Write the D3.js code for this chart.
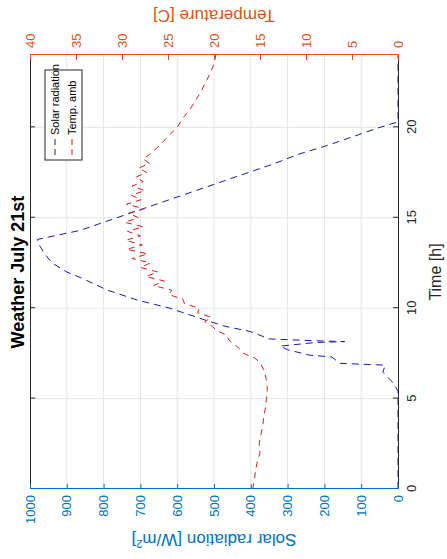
<!DOCTYPE html>
<html>
<head>
<meta charset="utf-8">
<script src="https://cdn.jsdelivr.net/npm/d3@7"></script>
<style>
body { margin: 0; background: #fff; }
svg { display: block; font-family: "Liberation Sans", Arial, sans-serif; }
</style>
</head>
<body>
<svg width="447" height="559"></svg>
<script>
// values
var solarHours = [0, 5.4, 5.7, 6.0, 6.45, 6.85, 6.9, 6.95, 7.3, 7.4, 7.7, 7.9, 8.1, 8.15, 8.2, 8.3, 8.7, 9.0, 9.35, 10, 10.45, 11, 11.7, 12, 12.5, 13, 13.5, 13.8, 14.3, 15, 16, 17, 18, 18.5, 19, 19.5, 20, 20.3, 24];
var solarValues = [0, 0, 8, 19, 41, 35, 100, 158, 180, 240, 300, 320, 225, 145, 230, 350, 400, 470, 525, 620, 709, 790, 864, 900, 940, 960, 975, 980, 864, 764, 621, 478, 335, 272, 192, 120, 49, 0, 0];

var tempHours = [0, 0.5, 1, 1.5, 2, 2.5, 3, 3.5, 4, 4.5, 5, 5.5, 6, 6.5, 7, 7.25, 7.5, 7.75, 8, 8.25, 8.5, 8.75, 9, 9.25, 9.5, 9.75, 10, 10.25, 10.5, 10.75, 11, 11.25, 11.5, 11.75, 12, 12.25, 12.5, 12.75, 13, 13.25, 13.5, 13.75, 14, 14.25, 14.5, 14.75, 15, 15.25, 15.5, 15.75, 16, 16.25, 16.5, 16.75, 17, 17.25, 17.5, 17.75, 18, 18.25, 18.5, 19, 19.5, 20, 20.5, 21, 21.5, 22, 22.5, 23, 23.5, 24];
var tempValues = [15.8, 15.6, 15.5, 15.3, 15.0, 15.1, 14.9, 14.7, 14.6, 14.4, 14.3, 14.2, 14.3, 14.5, 15.0, 15.6, 16.8, 17.2, 17.8, 18.4, 18.6, 19.7, 20.2, 21.0, 20.3, 21.8, 21.6, 23.2, 23.4, 24.9, 24.6, 26.6, 25.4, 27.4, 26.1, 28.0, 26.9, 28.9, 27.2, 29.5, 27.8, 29.6, 28.0, 29.4, 27.7, 29.7, 28.2, 29.3, 27.6, 29.5, 27.9, 29.0, 27.5, 28.9, 27.7, 28.5, 27.3, 28.2, 27.0, 27.7, 27.0, 25.9, 25.0, 24.0, 23.4, 22.6, 22.0, 21.4, 20.9, 20.4, 20.0, 19.8];

var timeTicks = [0, 5, 10, 15, 20];
var solarTicks = [0, 100, 200, 300, 400, 500, 600, 700, 800, 900, 1000];
var tempTicks = [0, 5, 10, 15, 20, 25, 30, 35, 40];

var svg = d3.select('svg');
var svgWidth = +svg.attr('width');
var svgHeight = +svg.attr('height');

// the figure is drawn upright and turned a quarter turn anticlockwise
var figW = svgHeight, figH = svgWidth;
var padding = {t: 30, r: figW - 504, b: figH - 398, l: 70};

var fig = svg.append('g')
    .attr('transform', 'translate(0,' + svgHeight + ') rotate(-90)');

var x = d3.scaleLinear().domain([0, 24]).range([padding.l, figW - padding.r]);
var ySolar = d3.scaleLinear().domain([0, 1000]).range([figH - padding.b, padding.t]);
var yTemp = d3.scaleLinear().domain([0, 40]).range([figH - padding.b, padding.t]);

var blueAxis = '#0072bd', orangeAxis = '#d95319', darkAxis = '#262626';
var gridColor = '#e1e6eb';

// grid
fig.append('g').selectAll('line')
    .data(solarTicks.slice(1, -1))
    .enter().append('line')
    .attr('x1', x(0)).attr('x2', x(24))
    .attr('y1', function(d) { return ySolar(d); })
    .attr('y2', function(d) { return ySolar(d); })
    .attr('stroke', gridColor).attr('stroke-width', 1);
fig.append('g').selectAll('line')
    .data(timeTicks.slice(1))
    .enter().append('line')
    .attr('y1', ySolar(0)).attr('y2', ySolar(1000))
    .attr('x1', function(d) { return x(d); })
    .attr('x2', function(d) { return x(d); })
    .attr('stroke', gridColor).attr('stroke-width', 1);

// lines
var solarLine = d3.line()
    .x(function(d, i) { return x(solarHours[i]); })
    .y(function(d) { return ySolar(d); });
var tempLine = d3.line()
    .x(function(d, i) { return x(tempHours[i]); })
    .y(function(d) { return yTemp(d); });

fig.append('path')
    .attr('d', solarLine(solarValues))
    .attr('fill', 'none')
    .attr('stroke', '#1a1aa6')
    .attr('stroke-width', 1)
    .attr('stroke-dasharray', '7,5');
fig.append('path')
    .attr('d', tempLine(tempValues))
    .attr('fill', 'none')
    .attr('stroke', '#d02020')
    .attr('stroke-width', 1)
    .attr('stroke-dasharray', '6,5');

// axes
function styleAxis(g, color, size) {
    g.selectAll('path.domain').attr('stroke', color);
    g.selectAll('.tick line').attr('stroke', color);
    g.selectAll('.tick text').attr('fill', color).style('font-size', size + 'px').style('font-family', 'inherit');
}

var xAxisG = fig.append('g')
    .attr('transform', 'translate(0,' + ySolar(0) + ')')
    .call(d3.axisBottom(x).tickValues(timeTicks).tickSizeInner(-5).tickSizeOuter(0).tickPadding(9));
styleAxis(xAxisG, darkAxis, 13);

var xTopG = fig.append('g')
    .attr('transform', 'translate(0,' + ySolar(1000) + ')')
    .call(d3.axisTop(x).tickValues(timeTicks).tickSizeInner(-5).tickSizeOuter(0).tickFormat(''));
styleAxis(xTopG, darkAxis, 13);

var yLeftG = fig.append('g')
    .attr('transform', 'translate(' + x(0) + ',0)')
    .call(d3.axisLeft(ySolar).tickValues(solarTicks).tickFormat(d3.format('d'))
        .tickSizeInner(-5).tickSizeOuter(0).tickPadding(6));
styleAxis(yLeftG, blueAxis, 13);

var yRightG = fig.append('g')
    .attr('transform', 'translate(' + x(24) + ',0)')
    .call(d3.axisRight(yTemp).tickValues(tempTicks).tickSizeInner(-5).tickSizeOuter(0).tickPadding(7));
styleAxis(yRightG, orangeAxis, 13);

// labels
var midX = (x(0) + x(24)) / 2, midY = (ySolar(0) + ySolar(1000)) / 2;

fig.append('text')
    .attr('x', midX).attr('y', 24)
    .attr('text-anchor', 'middle')
    .style('font-size', '18px').style('font-weight', 'bold')
    .attr('fill', '#000')
    .text('Weather July 21st');

fig.append('text')
    .attr('x', midX).attr('y', 441)
    .attr('text-anchor', 'middle')
    .style('font-size', '16px')
    .attr('fill', darkAxis)
    .text('Time [h]');

var solarLabel = fig.append('text')
    .attr('transform', 'translate(25,' + midY + ') rotate(-90)')
    .attr('text-anchor', 'middle')
    .style('font-size', '17px')
    .attr('fill', blueAxis);
solarLabel.append('tspan').text('Solar radiation [W/m');
solarLabel.append('tspan').attr('dy', -6).style('font-size', '11px').text('2');
solarLabel.append('tspan').attr('dy', 6).text(']');

fig.append('text')
    .attr('transform', 'translate(549,' + midY + ') rotate(-90)')
    .attr('text-anchor', 'middle')
    .style('font-size', '17px')
    .attr('fill', orangeAxis)
    .text('Temperature [C]');

// legend
var legend = fig.append('g').attr('transform', 'translate(399,45)');
legend.append('rect')
    .attr('width', 90).attr('height', 37)
    .attr('fill', '#fff').attr('stroke', '#262626').attr('stroke-width', 1);
var legendItems = [
    {label: 'Solar radiation', color: '#1a1aa6'},
    {label: 'Temp. amb', color: '#d02020'}
];
legendItems.forEach(function(item, i) {
    var ly = 10 + i * 17;
    legend.append('line')
        .attr('x1', 5).attr('x2', 21).attr('y1', ly).attr('y2', ly)
        .attr('stroke', item.color).attr('stroke-dasharray', '6,4');
    legend.append('text')
        .attr('x', 25).attr('y', ly + 4)
        .style('font-size', '11px')
        .attr('fill', '#000')
        .text(item.label);
});
</script>
</body>
</html>
